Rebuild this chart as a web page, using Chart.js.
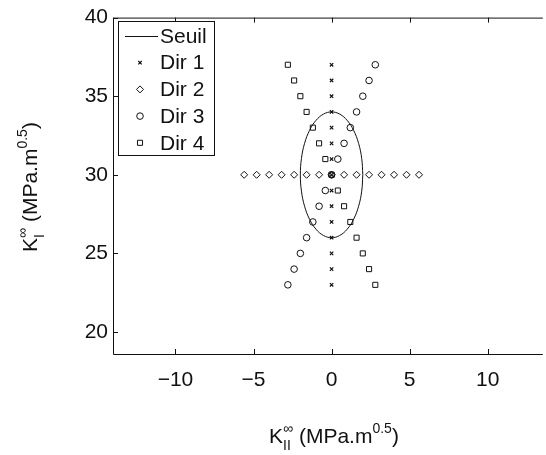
<!DOCTYPE html>
<html>
<head>
<meta charset="utf-8">
<script src="https://cdn.jsdelivr.net/npm/chart.js@4/dist/chart.umd.min.js"></script>
<style>
  html, body { margin: 0; padding: 0; background: #fff; overflow: hidden; }
  #wrap { width: 546px; height: 455px; }
</style>
</head>
<body>
<div id="wrap"><canvas id="myChart" width="546" height="455"></canvas></div>
<script>
// data
const dir1X = [0, 0, 0, 0, 0, 0, 0, 0, 0, 0, 0, 0, 0, 0, 0];
const dir1Y = [23, 24, 25, 26, 27, 28, 29, 30, 31, 32, 33, 34, 35, 36, 37];
const dir2X = [-5.6, -4.8, -4.0, -3.2, -2.4, -1.6, -0.8, 0, 0.8, 1.6, 2.4, 3.2, 4.0, 4.8, 5.6];
const dir2Y = [30, 30, 30, 30, 30, 30, 30, 30, 30, 30, 30, 30, 30, 30, 30];
const dir3X = [-2.8, -2.4, -2.0, -1.6, -1.2, -0.8, -0.4, 0, 0.4, 0.8, 1.2, 1.6, 2.0, 2.4, 2.8];
const dir3Y = [23, 24, 25, 26, 27, 28, 29, 30, 31, 32, 33, 34, 35, 36, 37];
const dir4X = [2.8, 2.4, 2.0, 1.6, 1.2, 0.8, 0.4, 0, -0.4, -0.8, -1.2, -1.6, -2.0, -2.4, -2.8];
const dir4Y = [23, 24, 25, 26, 27, 28, 29, 30, 31, 32, 33, 34, 35, 36, 37];
// threshold ellipse (Seuil)
const seuilX = [2, 1.93, 1.73, 1.41, 1.0, 0.52, 0, -0.52, -1.0, -1.41, -1.73, -1.93, -2,
                -1.93, -1.73, -1.41, -1.0, -0.52, 0, 0.52, 1.0, 1.41, 1.73, 1.93, 2];
const seuilY = [30, 31.04, 32.0, 32.83, 33.46, 33.86, 34, 33.86, 33.46, 32.83, 32.0, 31.04, 30,
                28.96, 28.0, 27.17, 26.54, 26.14, 26, 26.14, 26.54, 27.17, 28.0, 28.96, 30];

const xTicks = [-10, -5, 0, 5, 10];
const xTickLabels = ['\u221210', '\u22125', '0', '5', '10'];
const yTicks = [20, 25, 30, 35, 40];
const yTickLabels = ['20', '25', '30', '35', '40'];
const seriesNames = ['Seuil', 'Dir 1', 'Dir 2', 'Dir 3', 'Dir 4'];

const xTitleParts = [{t: 'K'}, {t: '\u221E', sup: true, stack: true}, {t: 'II', sub: true}, {t: ' (MPa.m'}, {t: '0.5', sup: true}, {t: ')'}];
const yTitleParts = [{t: 'K'}, {t: '\u221E', sup: true, stack: true}, {t: 'I', sub: true}, {t: ' (MPa.m'}, {t: '0.5', sup: true}, {t: ')'}];

const FONT = '"Liberation Sans", Arial, Helvetica, sans-serif';
const INK = '#111';

function pts(xs, ys) {
  return xs.map((x, i) => ({x: x, y: ys[i]}));
}

// draws text with super/subscripts, centred on (cx, cy) baseline
function richText(ctx, parts, cx, cy, angle) {
  const big = 21, small = 14;
  ctx.save();
  ctx.translate(cx, cy);
  ctx.rotate(angle);
  ctx.fillStyle = INK;
  ctx.textBaseline = 'alphabetic';
  ctx.textAlign = 'left';
  // measure
  let total = 0, held = 0;
  parts.forEach(p => {
    ctx.font = (p.sup || p.sub ? small : big) + 'px ' + FONT;
    const w = ctx.measureText(p.t).width;
    if (p.stack) { held = w; return; }
    total += Math.max(w, held); held = 0;
  });
  let x = -total / 2; held = 0;
  parts.forEach(p => {
    ctx.font = (p.sup || p.sub ? small : big) + 'px ' + FONT;
    const w = ctx.measureText(p.t).width;
    const dy = p.sup ? -10 : (p.sub ? 7 : 0);
    ctx.fillText(p.t, x, dy);
    if (p.stack) { held = w; return; }
    x += Math.max(w, held); held = 0;
  });
  ctx.restore();
}

const framePlugin = {
  id: 'frame',
  afterDraw(chart) {
    const {ctx, chartArea: a, scales: {x, y}} = chart;
    ctx.save();
    ctx.strokeStyle = INK;
    ctx.lineWidth = 1;
    ctx.beginPath();
    ctx.moveTo(a.left + 0.5, a.top + 0.5);
    ctx.lineTo(a.right + 2, a.top + 0.5);
    ctx.moveTo(a.left + 0.5, a.top);
    ctx.lineTo(a.left + 0.5, a.bottom + 0.5);
    ctx.lineTo(a.right + 2, a.bottom + 0.5);
    // inward ticks
    xTicks.forEach(v => {
      const px = Math.round(x.getPixelForValue(v)) + 0.5;
      ctx.moveTo(px, a.bottom); ctx.lineTo(px, a.bottom - 5);
      ctx.moveTo(px, a.top); ctx.lineTo(px, a.top + 5);
    });
    yTicks.forEach(v => {
      const py = Math.round(y.getPixelForValue(v)) + 0.5;
      ctx.moveTo(a.left, py); ctx.lineTo(a.left + 5, py);
    });
    ctx.stroke();

    // legend box
    const lx = 118.5, ly = 21.5, lw = 96, lh = 134, row = 26.7;
    ctx.fillStyle = '#fff';
    ctx.fillRect(lx, ly, lw, lh);
    ctx.strokeRect(lx, ly, lw, lh);
    ctx.font = '21px ' + FONT;
    ctx.textBaseline = 'middle';
    chart.data.datasets.forEach((ds, i) => {
      const cy = 36 + i * row;
      ctx.lineWidth = ds.borderWidth;
      if (ds.showLine) {
        ctx.beginPath();
        ctx.moveTo(125, cy + 0.5); ctx.lineTo(158, cy + 0.5);
        ctx.stroke();
      } else {
        ctx.fillStyle = 'rgba(0,0,0,0)';
        Chart.helpers.drawPoint(ctx, {pointStyle: ds.pointStyle, radius: ds.pointRadius, borderWidth: ds.borderWidth}, 140, cy);
      }
      ctx.fillStyle = INK;
      ctx.fillText(ds.label, 160, cy + 1);
    });

    richText(ctx, xTitleParts, 334, 443, 0);
    richText(ctx, yTitleParts, 37, 187, -Math.PI / 2);
    ctx.restore();
  }
};

const markerBase = {showLine: false, borderColor: INK, backgroundColor: 'rgba(0,0,0,0)', borderWidth: 1};

new Chart(document.getElementById('myChart'), {
  type: 'scatter',
  data: {
    datasets: [
      {label: seriesNames[0], data: pts(seuilX, seuilY), showLine: true, pointRadius: 0, borderColor: INK, borderWidth: 1, tension: 0.4, fill: false},
      Object.assign({label: seriesNames[1], data: pts(dir1X, dir1Y), pointStyle: 'crossRot', pointRadius: 2.4}, markerBase, {borderWidth: 1.2}),
      Object.assign({label: seriesNames[2], data: pts(dir2X, dir2Y), pointStyle: 'rectRot', pointRadius: 3.5}, markerBase),
      Object.assign({label: seriesNames[3], data: pts(dir3X, dir3Y), pointStyle: 'circle', pointRadius: 3.3}, markerBase),
      Object.assign({label: seriesNames[4], data: pts(dir4X, dir4Y), pointStyle: 'rect', pointRadius: 3.6}, markerBase)
    ]
  },
  options: {
    responsive: false,
    animation: false,
    layout: {padding: {left: 0, top: 16, right: 0, bottom: 0}},
    plugins: {legend: {display: false}, tooltip: {enabled: false}},
    scales: {
      x: {
        type: 'linear', min: -14, max: 13.4,
        grid: {display: false, drawTicks: false},
        border: {display: false},
        afterBuildTicks: s => { s.ticks = xTicks.map(v => ({value: v})); },
        afterFit: s => { s.height = 101; },
        ticks: {
          padding: 14, color: INK, font: {family: FONT, size: 21},
          callback: (v) => xTickLabels[xTicks.indexOf(v)]
        }
      },
      y: {
        type: 'linear', min: 18.6, max: 40,
        grid: {display: false, drawTicks: false},
        border: {display: false},
        afterBuildTicks: s => { s.ticks = yTicks.map(v => ({value: v})); },
        afterFit: s => { s.width = 113; },
        ticks: {
          padding: 5, color: INK, font: {family: FONT, size: 21},
          callback: (v) => yTickLabels[yTicks.indexOf(v)]
        }
      }
    }
  },
  plugins: [framePlugin]
});
</script>
</body>
</html>
